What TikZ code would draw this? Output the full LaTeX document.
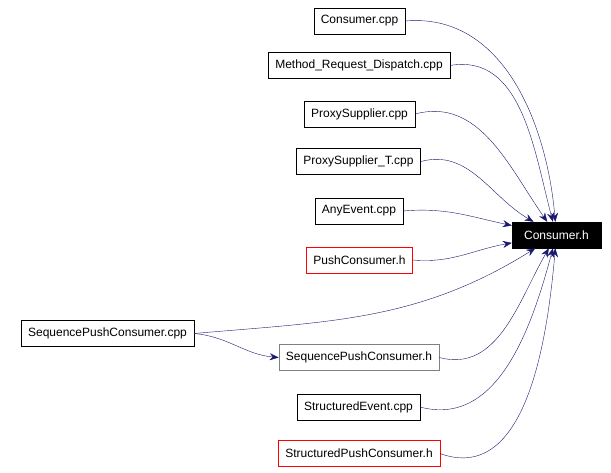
\documentclass[tikz,border=0pt]{standalone}
\usepackage{fontspec}
\setmainfont{Liberation Sans}
\usetikzlibrary{arrows.meta}
\definecolor{edge}{HTML}{191970}
\begin{document}
\begin{tikzpicture}[x=1pt,y=-1pt,
  box/.style={draw=black,fill=white,minimum height=26pt,inner xsep=7pt,font=\fontsize{12}{14}\selectfont},
  red/.style={box,draw=red},
  grey/.style={box,draw=gray},
  e/.style={draw=edge,-{Stealth[length=9pt,width=7pt]}}]
\useasboundingbox (0,0) rectangle (611,472);
\node[box,fill=black,text=white,minimum width=89pt] (h) at (556.5,235) {Consumer.h};
\node[box] (a) at (359.5,21) {Consumer.cpp};
\node[box] (b) at (359,65.5) {Method\_Request\_Dispatch.cpp};
\node[box] (c) at (359.5,114) {ProxySupplier.cpp};
\node[box] (d) at (358.5,161.5) {ProxySupplier\_T.cpp};
\node[box] (f) at (359,211) {AnyEvent.cpp};
\node[red] (g) at (359.5,260) {PushConsumer.h};
\node[box] (s) at (107.5,333.5) {SequencePushConsumer.cpp};
\node[grey] (sh) at (359,357.5) {SequencePushConsumer.h};
\node[box] (se) at (358.5,407) {StructuredEvent.cpp};
\node[red] (sp) at (359,453.5) {StructuredPushConsumer.h};
\draw[e] (a.east) to[out=5,in=95] (h);
\draw[e] (b.east) to[out=10,in=105] (h);
\draw[e] (c.east) to[out=15,in=125] (h);
\draw[e] (d.east) to[out=15,in=150] (h);
\draw[e] (f.east) to[out=5,in=168] (h);
\draw[e] (g.east) to[out=-5,in=190] (h);
\draw[e] (s.east) to[out=5,in=212] (h);
\draw[e] (sh.east) to[out=-15,in=240] (h);
\draw[e] (se.east) to[out=-15,in=255] (h);
\draw[e] (sp.east) to[out=-20,in=265] (h);
\draw[e] (s.east) to[out=-5,in=175] (sh.west);
\end{tikzpicture}
\end{document}
